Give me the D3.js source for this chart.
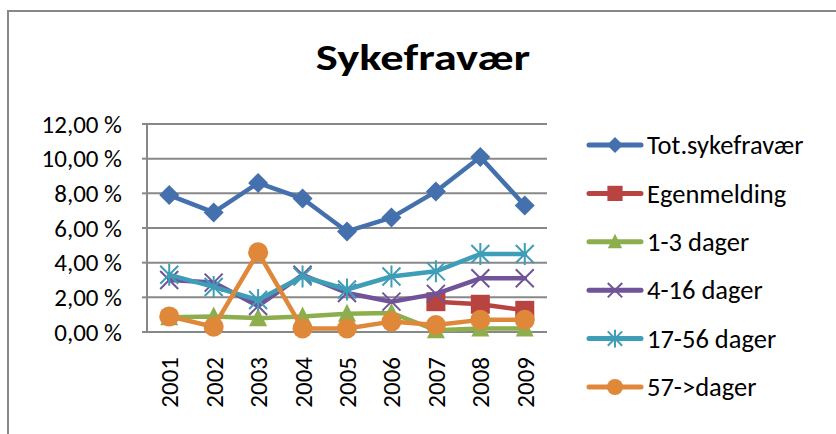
<!DOCTYPE html>
<html><head><meta charset="utf-8">
<script src="https://cdn.jsdelivr.net/npm/d3@7"></script>
<style>body{margin:0;background:#fff}svg{display:block}</style>
</head><body>
<svg id="c" width="836" height="434"></svg>
<script>
const years = ["2001","2002","2003","2004","2005","2006","2007","2008","2009"];
const yTicks = [0,2,4,6,8,10,12];
const seriesNames = ["Tot.sykefravær","Egenmelding","1-3 dager","4-16 dager","17-56 dager","57->dager"];
const totSyk = [7.9,6.9,8.6,7.7,5.8,6.6,8.1,10.1,7.3];
const egenmelding = [null,null,null,null,null,null,1.75,1.6,1.25];
const dager1_3 = [0.85,0.9,0.8,0.9,1.05,1.1,0.1,0.2,0.2];
const dager4_16 = [3.0,2.85,1.5,3.3,2.25,1.75,2.2,3.1,3.1];
const dager17_56 = [3.3,2.6,1.85,3.2,2.45,3.2,3.5,4.5,4.5];
const dager57 = [0.9,0.3,4.6,0.2,0.2,0.6,0.4,0.7,0.7];

const colors = ["#4470AD","#B84441","#8DAE4C","#70549A","#3E9DB7","#E0883A"];
const markers = ["diamond","square","triangle","x","star","circle"];
const allData = [totSyk,egenmelding,dager1_3,dager4_16,dager17_56,dager57];

const svg = d3.select("#c");
const font = "Carlito, Calibri, 'Liberation Sans', Arial, sans-serif";
const grid = "#888888";

// outer frame
svg.append("path").attr("d","M8,434 V11 H836").attr("fill","none").attr("stroke",grid).attr("stroke-width",2);

// title
svg.append("text").attr("transform","translate(423,70) scale(1.26,1)").attr("text-anchor","middle")
  .attr("font-family",font).attr("font-weight","bold").attr("font-size",37)
  .text("Sykefravær");

const x = d3.scaleBand().domain(years).range([147,547]);
const y = d3.scaleLinear().domain([0,12]).range([332,124]);

// gridlines
svg.append("g").selectAll("line").data(yTicks).join("line")
  .attr("x1",147).attr("x2",547).attr("y1",d=>y(d)).attr("y2",d=>y(d))
  .attr("stroke",grid).attr("stroke-width",2);
// y-axis line
svg.append("line").attr("x1",147).attr("x2",147).attr("y1",y(12)).attr("y2",y(0)).attr("stroke",grid).attr("stroke-width",2);
// ticks
svg.append("g").selectAll("line").data(yTicks).join("line")
  .attr("x1",142).attr("x2",147).attr("y1",d=>y(d)).attr("y2",d=>y(d)).attr("stroke",grid).attr("stroke-width",2);

// y labels
const fmt = d=> d.toFixed(2).replace(".",",")+" %";
svg.append("g").selectAll("text").data(yTicks).join("text")
  .attr("x",122).attr("y",d=>y(d)).attr("dy","0.35em").attr("text-anchor","end")
  .attr("font-family",font).attr("font-size",25).attr("fill","#000").text(fmt);

// x labels
svg.append("g").selectAll("text").data(years).join("text")
  .attr("transform",d=>`translate(${x(d)+x.bandwidth()/2},357) rotate(-90)`)
  .attr("dy","0.36em").attr("text-anchor","end")
  .attr("font-family",font).attr("font-size",25).attr("fill","#000").text(d=>d);

function drawMarker(g, type, color, s){
  if(type==="diamond"){
    g.append("path").attr("d",`M0,${-10*s}L${10*s},0L0,${10*s}L${-10*s},0Z`).attr("fill",color);
  } else if(type==="square"){
    g.append("rect").attr("x",-9.5*s).attr("y",-9.5*s).attr("width",19*s).attr("height",19*s).attr("fill",color);
  } else if(type==="triangle"){
    g.append("path").attr("d",`M0,${-10*s}L${9*s},${8*s}L${-9*s},${8*s}Z`).attr("fill",color);
  } else if(type==="circle"){
    g.append("circle").attr("r",10*s).attr("fill",color);
  } else if(type==="x"){
    g.append("path").attr("d",`M${-9*s},${-9*s}L${9*s},${9*s}M${-9*s},${9*s}L${9*s},${-9*s}`)
      .attr("stroke",color).attr("stroke-width",2).attr("fill","none");
  } else if(type==="star"){
    g.append("path").attr("d",`M${-9*s},${-9*s}L${9*s},${9*s}M${-9*s},${9*s}L${9*s},${-9*s}M0,${-11*s}L0,${11*s}`)
      .attr("stroke",color).attr("stroke-width",2).attr("fill","none");
  }
}

const cx = d=>x(d)+x.bandwidth()/2;
allData.forEach((vals,i)=>{
  const pts = years.map((yr,j)=>({yr, v: vals[j]}));
  const line = d3.line().defined(d=>d.v!=null).x(d=>cx(d.yr)).y(d=>y(d.v));
  const g = svg.append("g");
  g.append("path").attr("d",line(pts)).attr("fill","none").attr("stroke",colors[i])
    .attr("stroke-width",4.5).attr("stroke-linejoin","round").attr("stroke-linecap","round");
  pts.filter(d=>d.v!=null).forEach(d=>{
    const m = g.append("g").attr("transform",`translate(${cx(d.yr)},${y(d.v)})`);
    drawMarker(m, markers[i], colors[i], 1);
  });
});

// legend
const leg = svg.append("g");
seriesNames.forEach((name,i)=>{
  const ly = 145 + i*48.4;
  leg.append("line").attr("x1",589).attr("x2",641).attr("y1",ly).attr("y2",ly)
    .attr("stroke",colors[i]).attr("stroke-width",5).attr("stroke-linecap","round");
  const m = leg.append("g").attr("transform",`translate(615,${ly})`);
  drawMarker(m, markers[i], colors[i], 0.8);
  leg.append("text").attr("x",647).attr("y",ly).attr("dy","0.35em")
    .attr("font-family",font).attr("font-size",26.5).attr("fill","#000").text(name);
});
</script>
</body></html>
